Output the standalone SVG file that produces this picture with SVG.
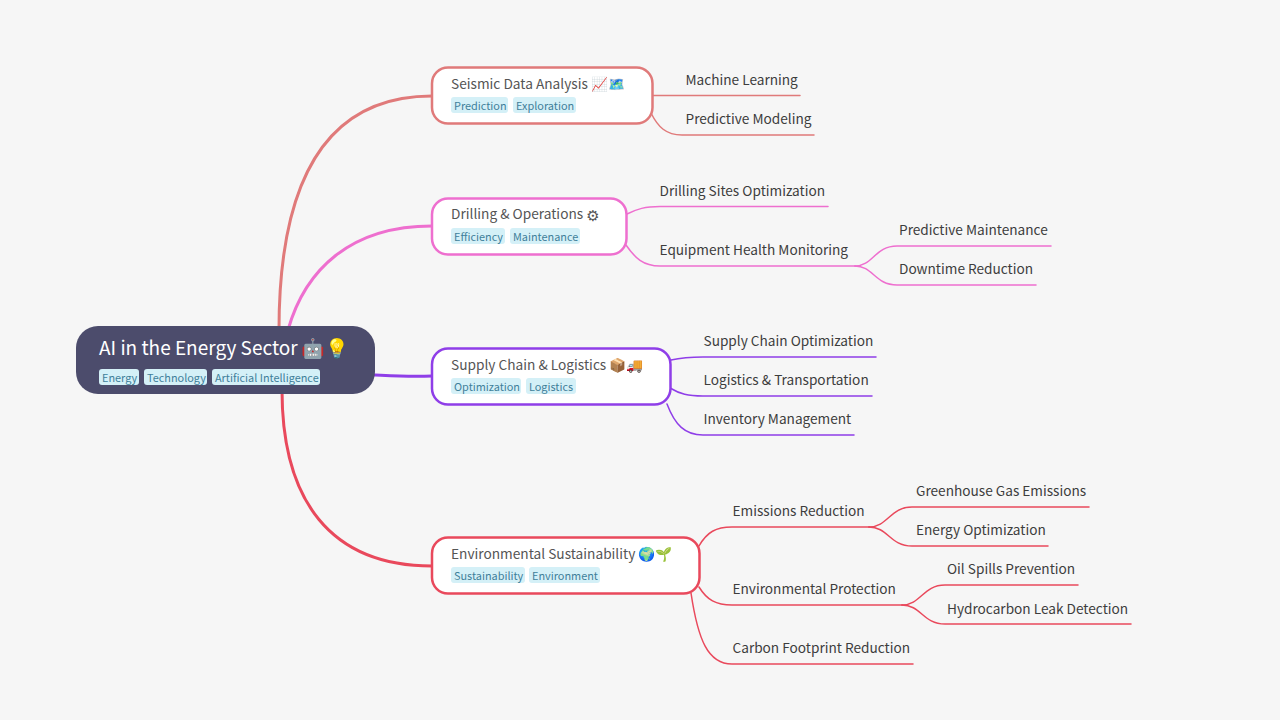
<svg xmlns="http://www.w3.org/2000/svg" width="1280" height="720" viewBox="0 0 1280 720">
<style>
text{font-family:"Noto Sans CJK SC","Noto Sans",sans-serif}
.c{fill:none;stroke-linecap:round}
.b{stroke-width:3}
.l{stroke-width:1.5}
.t{font-size:13.65px;fill:#3d3d3d}
.m{font-size:13.7px;fill:#555}
.tag{font-size:10.9px;fill:#3f7f9a}
.tb{fill:#d4f0f7}
.n{fill:#fff;stroke-width:2.5}
.r{stroke:#e07a7a}.p{stroke:#ee6fcf}.v{stroke:#8f3ee8}.e{stroke:#e9495c}
</style>
<rect width="1280" height="720" fill="#f6f6f6"/>
<g id="connectors">
<path class="c b r" d="M279 330C279 190 320 96 432 96"/>
<path class="c b p" d="M288 330C305 270 350 226 432 226"/>
<path class="c b v" d="M375 375C395 376 410 377 432 376"/>
<path class="c b e" d="M282 390C282 500 330 566 432 566"/>
<path class="c l r" d="M652 95.500H800"/>
<path class="c l r" d="M651 113C658 127 666 135 682 135H814"/>
<path class="c l p" d="M627 214C637 209 645 206.500 660 206.500H828"/>
<path class="c l p" d="M626 245C635 258 643 266 660 266H855"/>
<path class="c l p" d="M855 266C873 266 875 246 897 246H1051"/>
<path class="c l p" d="M855 266C873 266 875 285 897 285H1036"/>
<path class="c l v" d="M671 360C680 358 688 357 703 357H876"/>
<path class="c l v" d="M670 388C680 394 688 396 703 396H872"/>
<path class="c l v" d="M667 404C675 425 685 435 703 435H854"/>
<path class="c l e" d="M699 546C707 532 716 527 732 527H869"/>
<path class="c l e" d="M699 587C707 600 716 605 732 605H902"/>
<path class="c l e" d="M691 593C698 640 708 664 732 664H913"/>
<path class="c l e" d="M869 527C888 527 890 507 912 507H1089"/>
<path class="c l e" d="M869 527C888 527 890 546 912 546H1048"/>
<path class="c l e" d="M902 605C921 605 923 585 945 585H1078"/>
<path class="c l e" d="M902 605C921 605 923 624 945 624H1131"/>
</g>
<g id="root">
<rect x="76" y="326" width="299" height="68" rx="22" fill="#4c4c6c"/>
<text x="99" y="355" font-size="19" fill="#fff">AI in the Energy Sector <tspan dx="-1">🤖💡</tspan></text>
<rect class="tb" x="99" y="369" width="40" height="16" rx="3"/><text class="tag" x="102" y="382">Energy</text>
<rect class="tb" x="144" y="369" width="63" height="16" rx="3"/><text class="tag" x="147" y="382">Technology</text>
<rect class="tb" x="212" y="369" width="108" height="16" rx="3"/><text class="tag" x="215" y="382">Artificial Intelligence</text>
</g>
<g id="seismic">
<rect class="n r" x="432" y="67.500" width="220.500" height="56" rx="16"/>
<text class="m" x="451" y="89">Seismic Data Analysis 📈🗺️</text>
<rect class="tb" x="451" y="97" width="57" height="16" rx="3"/><text class="tag" x="454" y="110">Prediction</text>
<rect class="tb" x="513" y="97" width="63" height="16" rx="3"/><text class="tag" x="516" y="110">Exploration</text>
</g>
<g id="drilling">
<rect class="n p" x="432" y="198.500" width="194.500" height="56" rx="16"/>
<text class="m" x="451" y="219">Drilling &amp; Operations <tspan font-family="'DejaVu Sans',sans-serif" font-size="15" dy="2">⚙</tspan></text>
<rect class="tb" x="451" y="228" width="54" height="16" rx="3"/><text class="tag" x="454" y="241">Efficiency</text>
<rect class="tb" x="510" y="228" width="70" height="16" rx="3"/><text class="tag" x="513" y="241">Maintenance</text>
</g>
<g id="supply">
<rect class="n v" x="432" y="348.500" width="238.500" height="56" rx="16"/>
<text class="m" x="451" y="370">Supply Chain &amp; Logistics 📦🚚</text>
<rect class="tb" x="451" y="378" width="70" height="16" rx="3"/><text class="tag" x="454" y="391">Optimization</text>
<rect class="tb" x="526" y="378" width="50" height="16" rx="3"/><text class="tag" x="529" y="391">Logistics</text>
</g>
<g id="environment">
<rect class="n e" x="432" y="537.500" width="267.500" height="56" rx="16"/>
<text class="m" x="451" y="559">Environmental Sustainability 🌍🌱</text>
<rect class="tb" x="451" y="567" width="74" height="16" rx="3"/><text class="tag" x="454" y="580">Sustainability</text>
<rect class="tb" x="529" y="567" width="71" height="16" rx="3"/><text class="tag" x="532" y="580">Environment</text>
</g>
<g id="leaf-labels">
<text class="t" x="685.500" y="85">Machine Learning</text>
<text class="t" x="685.500" y="124">Predictive Modeling</text>
<text class="t" x="659.500" y="196">Drilling Sites Optimization</text>
<text class="t" x="659.500" y="255">Equipment Health Monitoring</text>
<text class="t" x="899" y="235">Predictive Maintenance</text>
<text class="t" x="899" y="274">Downtime Reduction</text>
<text class="t" x="703.500" y="346">Supply Chain Optimization</text>
<text class="t" x="703.500" y="385">Logistics &amp; Transportation</text>
<text class="t" x="703.500" y="424">Inventory Management</text>
<text class="t" x="732.500" y="516">Emissions Reduction</text>
<text class="t" x="732.500" y="594">Environmental Protection</text>
<text class="t" x="732.500" y="653">Carbon Footprint Reduction</text>
<text class="t" x="916" y="496">Greenhouse Gas Emissions</text>
<text class="t" x="916" y="535">Energy Optimization</text>
<text class="t" x="947" y="574">Oil Spills Prevention</text>
<text class="t" x="947" y="614">Hydrocarbon Leak Detection</text>
</g>
</svg>
